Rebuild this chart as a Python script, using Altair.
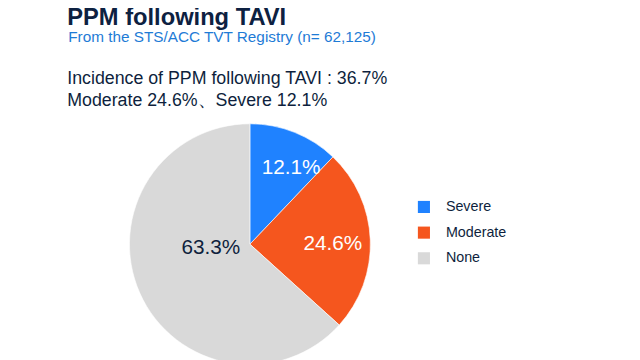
import altair as alt
import pandas as pd

categories = ["Severe", "Moderate", "None"]
values = [12.1, 24.6, 63.3]
labels = ["12.1%", "24.6%", "63.3%"]
colors = ["#1F82FF", "#F5561E", "#D9D9D9"]
label_colors = ["#FFFFFF", "#FFFFFF", "#0E1F3D"]

title_text = "PPM following TAVI"
subtitle_text = "From the STS/ACC TVT Registry (n= 62,125)"
line1_text = "Incidence of PPM following TAVI : 36.7%"
line2_text = "Moderate 24.6%\u3001Severe 12.1%"

FONT = "Liberation Sans"
NAVY = "#0E1F3D"
TWO_PI = 6.283185307179586

df = pd.DataFrame({
    "cat": categories,
    "val": values,
    "label": labels,
    "lc": label_colors,
    "order": list(range(len(categories))),
})

CX, CY, R = 245, 237, 122

pie = alt.Chart(df).mark_arc(outerRadius=R, stroke="white", strokeWidth=0.6).encode(
    theta=alt.Theta("val:Q", stack=True),
    order=alt.Order("order:Q"),
    x=alt.value(CX),
    y=alt.value(CY),
    color=alt.Color(
        "cat:N",
        scale=alt.Scale(domain=categories, range=colors),
        sort=categories,
        legend=alt.Legend(
            title=None,
            orient="none",
            legendX=414,
            legendY=192,
            symbolType="square",
            symbolSize=150,
            symbolStrokeWidth=0,
            labelFont=FONT,
            labelFontSize=14.5,
            labelColor=NAVY,
            labelOffset=15,
            rowPadding=11,
            padding=0,
        ),
    ),
)

stacked = alt.Chart(df).transform_window(
    cum="sum(val)", sort=[alt.SortField("order")], frame=[None, 0]
).transform_joinaggregate(total="sum(val)").transform_calculate(
    mid="(datum.cum - datum.val / 2) / datum.total * 100"
)

lab_kw = dict(font=FONT, fontSize=21)


def slice_label(cat, radius, dx=0, dy=0):
    return stacked.transform_filter(alt.datum.cat == cat).mark_text(
        radius=radius, dx=dx, dy=dy, **lab_kw
    ).encode(
        theta=alt.Theta("mid:Q", stack=None,
                        scale=alt.Scale(domain=[0, 100], range=[0, TWO_PI])),
        x=alt.value(CX), y=alt.value(CY), text="label:N",
        color=alt.Color("lc:N", scale=None),
    )


lab_sev = slice_label("Severe", 88, dx=9, dy=5)
lab_mod = slice_label("Moderate", 84, dy=3)
lab_none = slice_label("None", 40, dx=-3, dy=-12)


def header(txt, x, y, size, color, weight="normal"):
    return alt.Chart(pd.DataFrame({"t": [txt]})).mark_text(
        align="left", baseline="alphabetic", font=FONT, fontSize=size,
        fontWeight=weight, color=color,
    ).encode(text="t:N", x=alt.value(x), y=alt.value(y))


h1 = header(title_text, 60, 15, 24, "#0D2141", "bold")
h2 = header(subtitle_text, 61, 32, 15.5, "#1E7BD6")
h3 = header(line1_text, 60, 75, 18, NAVY)
h4 = header(line2_text, 60, 97, 18, NAVY)

chart = alt.layer(pie, lab_sev, lab_mod, lab_none, h1, h2, h3, h4).properties(
    width=632, height=352, autosize=alt.AutoSizeParams(type="none"), padding=0,
    background="white",
).configure_view(stroke=None)

chart.save("out.html", embed_options={"renderer": "svg", "actions": False})
